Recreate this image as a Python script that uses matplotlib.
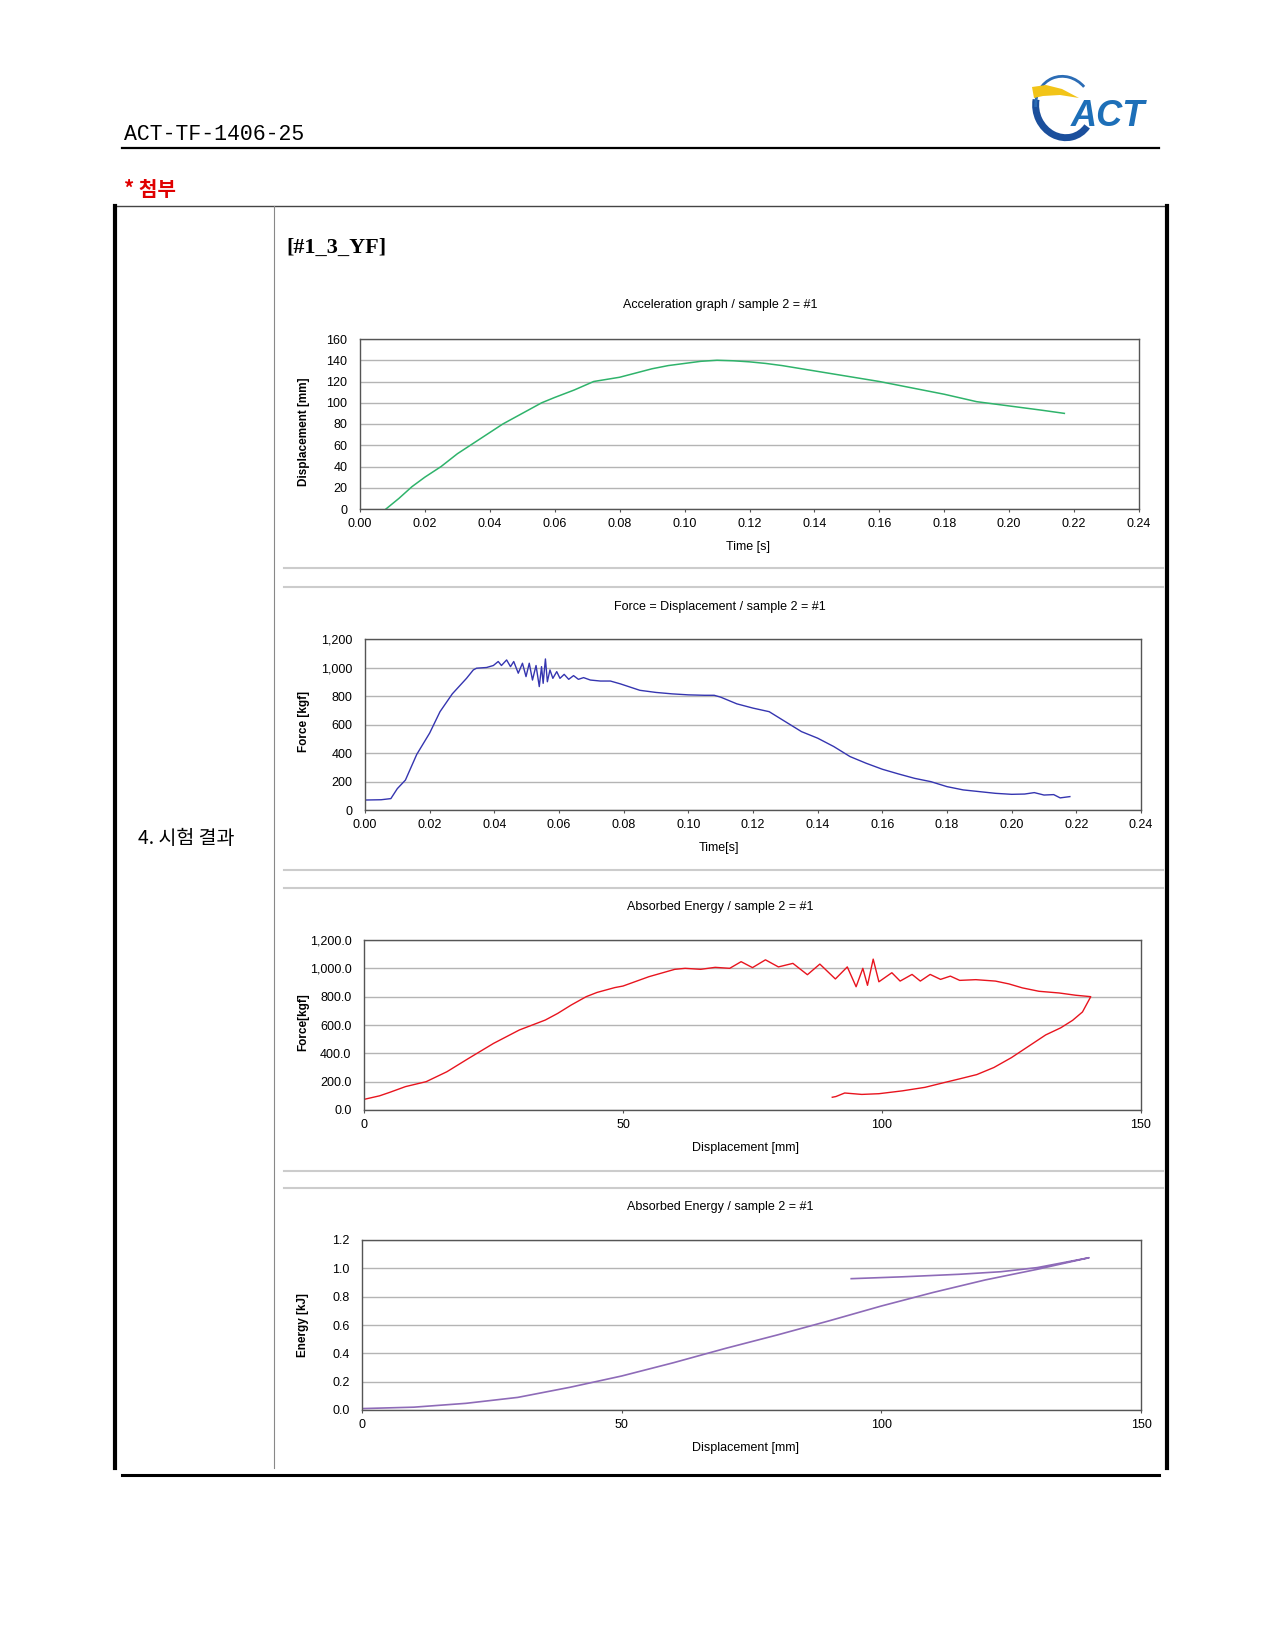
import matplotlib
matplotlib.use("Agg")
import matplotlib.pyplot as plt
from matplotlib.patches import Arc, Polygon
from matplotlib.ticker import StrMethodFormatter

plt.rcParams['font.family'] = ['Liberation Sans', 'Noto Sans CJK KR', 'DejaVu Sans']

W, H = 1275, 1650

# chart 1: displacement vs time
acc_t = [0.008, 0.012, 0.016, 0.020, 0.025, 0.030, 0.034, 0.040, 0.044, 0.050,
         0.056, 0.060, 0.066, 0.072, 0.080, 0.085, 0.090, 0.095, 0.100, 0.105,
         0.110, 0.115, 0.120, 0.125, 0.130, 0.140, 0.150, 0.160, 0.170, 0.180,
         0.190, 0.200, 0.210, 0.217]
acc_d = [0, 10, 21, 30, 40, 52, 60, 72, 80, 90,
         100, 105, 112, 120, 124, 128, 132, 135, 137, 139,
         140, 139.5, 138.5, 137, 135, 130, 125, 120, 114, 108,
         101, 97, 93, 90]

# chart 2: force vs time
force_t = [0.000, 0.005, 0.008, 0.010, 0.0125, 0.016, 0.020, 0.0232, 0.027, 0.0314,
           0.0335, 0.0345, 0.0376, 0.0397, 0.0412, 0.0422, 0.0438, 0.045, 0.046, 0.0474,
           0.0487, 0.0498, 0.0508, 0.0518, 0.0529, 0.0539, 0.0546, 0.0551, 0.0558, 0.0564,
           0.0572, 0.0581, 0.0593, 0.0603, 0.0616, 0.063, 0.0645, 0.066, 0.0676, 0.0697,
           0.0728, 0.0759, 0.079, 0.085, 0.090, 0.095, 0.100, 0.105, 0.108, 0.110,
           0.115, 0.120, 0.125, 0.130, 0.135, 0.140, 0.145, 0.150, 0.155, 0.160,
           0.165, 0.170, 0.175, 0.180, 0.185, 0.190, 0.195, 0.200, 0.204, 0.207,
           0.210, 0.213, 0.215, 0.218]
force_f = [70, 72, 80, 150, 210, 390, 540, 690, 815, 924,
           983, 995, 1000, 1014, 1042, 1014, 1053, 1006, 1042, 960,
           1030, 936, 1030, 912, 1014, 866, 1006, 889, 1060, 900,
           983, 924, 971, 924, 952, 917, 943, 917, 929, 912,
           905, 905, 885, 840, 825, 815, 808, 805, 805, 792,
           745, 715, 690, 620, 550, 504, 445, 375, 328, 286,
           253, 222, 199, 164, 141, 129, 117, 110, 112, 122,
           105, 108, 85, 94]

# chart 3: force vs displacement
ea_x = [0, 3, 5, 8, 12, 16, 20, 25, 30, 35,
        37.4, 40, 42.9, 45, 48.4, 50, 55, 60, 62, 65,
        67.8, 70.6, 72.8, 75, 77.5, 80, 82.8, 85.6, 88, 91,
        93.3, 95, 96.3, 97.2, 98.3, 99.4, 101.9, 103.5, 105.8, 107.4,
        109.3, 111.3, 113.2, 115, 118.1, 121.9, 124.5, 127.1, 130.3, 134.2,
        137.4, 140.3, 138.7, 136.8, 134.5, 131.6, 128.3, 125, 121.6, 118.3,
        115, 111.6, 108.3, 103.9, 99.4, 96.1, 92.8, 91.1, 90.4]
ea_f = [75, 100, 125, 165, 200, 270, 360, 470, 565, 635,
        682, 741, 800, 830, 864, 875, 941, 993, 1000, 993,
        1007, 1000, 1047, 1005, 1060, 1010, 1035, 955, 1030, 925,
        1010, 870, 1000, 880, 1065, 905, 969, 910, 957, 910,
        957, 922, 945, 915, 920, 910, 890, 862, 838, 826,
        810, 800, 692, 633, 580, 530, 450, 370, 300, 250,
        220, 190, 160, 135, 115, 110, 120, 95, 90]

# chart 4: energy vs displacement
en_x = [0, 10, 20, 30, 40, 50, 60, 70, 80, 90, 100, 110, 120, 130, 140,
        135, 130, 123, 115, 104, 94.2]
en_e = [0.01, 0.02, 0.047, 0.089, 0.16, 0.24, 0.334, 0.435, 0.53, 0.63, 0.734, 0.83, 0.918, 0.993, 1.075,
        1.04, 1.005, 0.976, 0.958, 0.94, 0.927]

time_ticks = [0.00, 0.02, 0.04, 0.06, 0.08, 0.10, 0.12, 0.14, 0.16, 0.18, 0.20, 0.22, 0.24]
disp_ticks = [0, 50, 100, 150]
acc_yticks = [0, 20, 40, 60, 80, 100, 120, 140, 160]
force_yticks = [0, 200, 400, 600, 800, 1000, 1200]
energy_yticks = [0.0, 0.2, 0.4, 0.6, 0.8, 1.0, 1.2]

fig = plt.figure(figsize=(W / 100, H / 100), dpi=100)

# background layer in pixel coordinates
bg = fig.add_axes([0, 0, 1, 1], zorder=-1)
bg.set_xlim(0, W)
bg.set_ylim(H, 0)
bg.axis('off')

# page header
bg.text(124, 140, "ACT-TF-1406-25", family='Liberation Mono', fontsize=15.5, va='baseline')
bg.plot([122, 1159], [148, 148], color='black', lw=1.6)
bg.text(124, 190, "* 첨부", family=['Noto Sans CJK KR'], fontsize=14.5, fontweight='bold',
        color='#e00000', va='center')

# logo
bg.add_patch(Arc((1064, 107), 56, 62, angle=-20, theta1=60, theta2=215, color='#1b4f9c', lw=5))
bg.add_patch(Arc((1064, 107), 56, 62, angle=-20, theta1=200, theta2=335, color='#2b6cb5', lw=2))
bg.add_patch(Polygon([[1032, 87], [1046, 85], [1062, 89], [1079, 98], [1060, 95], [1043, 96], [1034, 98]],
                     closed=True, color='#f2c418', lw=0))
bg.text(1108, 117, "ACT", fontsize=26, fontweight='bold', style='italic', color='#1d6fb8',
        ha='center', va='center')

# table frame
bg.plot([115, 1167], [206, 206], color='#444444', lw=1.0)
bg.plot([115, 115], [206, 1468], color='black', lw=3.0)
bg.plot([1167, 1167], [206, 1468], color='black', lw=3.0)
bg.plot([274, 274], [206, 1468], color='#888888', lw=0.8)
bg.plot([122, 1159], [1475, 1475], color='black', lw=2.2)
bg.text(138, 839, "4. 시험 결과", family=['Noto Sans CJK KR'], fontsize=14, va='center')
bg.text(286, 248, "[#1_3_YF]", family='Liberation Serif', fontsize=16, fontweight='bold', va='center')

for y in [568, 587, 870, 888, 1171, 1188]:
    bg.plot([284, 1163], [y, y], color='#cccccc', lw=1.5)


def px_axes(l, t, r, b):
    return fig.add_axes([l / W, 1 - b / H, (r - l) / W, (b - t) / H])


def style(ax, xlim, xticks, ylim, yticks, xfmt, yfmt):
    ax.set_xlim(*xlim)
    ax.set_ylim(*ylim)
    ax.set_xticks(xticks)
    ax.set_yticks(yticks)
    ax.xaxis.set_major_formatter(StrMethodFormatter(xfmt))
    ax.yaxis.set_major_formatter(StrMethodFormatter(yfmt))
    ax.grid(axis='y', color='#b4b4b4', lw=1.0)
    ax.set_axisbelow(True)
    for sp in ax.spines.values():
        sp.set_color('#555555')
        sp.set_linewidth(1.0)
    ax.tick_params(axis='y', length=0, pad=9, labelsize=9)
    ax.tick_params(axis='x', length=2.5, direction='out', pad=4, labelsize=9, color='#555555')


# chart 1
ax1 = px_axes(360, 339, 1139, 509)
ax1.plot(acc_t, acc_d, color='#2fb36b', lw=1.1)
style(ax1, (0, 0.24), time_ticks, (0, 160), acc_yticks, '{x:.2f}', '{x:.0f}')
bg.text(720, 305, "Acceleration graph / sample 2 = #1", fontsize=9, ha='center', va='center')
bg.text(748, 547, "Time [s]", fontsize=9, ha='center', va='center')
bg.text(304, 432, "Displacement [mm]", fontsize=8.5, fontweight='bold', rotation=90, ha='center', va='center')

# chart 2
ax2 = px_axes(365, 639, 1141, 810)
ax2.plot(force_t, force_f, color='#3535b0', lw=1.0)
style(ax2, (0, 0.24), time_ticks, (0, 1200), force_yticks, '{x:.2f}', '{x:,.0f}')
bg.text(720, 607, "Force = Displacement / sample 2 = #1", fontsize=9, ha='center', va='center')
bg.text(719, 848, "Time[s]", fontsize=9, ha='center', va='center')
bg.text(304, 722, "Force [kgf]", fontsize=8.5, fontweight='bold', rotation=90, ha='center', va='center')

# chart 3
ax3 = px_axes(364, 940, 1141, 1110)
ax3.plot(ea_x, ea_f, color='#e8141e', lw=1.0)
style(ax3, (0, 150), disp_ticks, (0, 1200), force_yticks, '{x:.0f}', '{x:,.1f}')
bg.text(720, 907, "Absorbed Energy / sample 2 = #1", fontsize=9, ha='center', va='center')
bg.text(745, 1148, "Displacement [mm]", fontsize=9, ha='center', va='center')
bg.text(303, 1022, "Force[kgf]", fontsize=8.5, fontweight='bold', rotation=90, ha='center', va='center')

# chart 4
ax4 = px_axes(362, 1240, 1141, 1410)
ax4.plot(en_x, en_e, color='#8e6bb8', lw=1.2)
style(ax4, (0, 150), disp_ticks, (0, 1.2), energy_yticks, '{x:.0f}', '{x:.1f}')
bg.text(720, 1207, "Absorbed Energy / sample 2 = #1", fontsize=9, ha='center', va='center')
bg.text(745, 1448, "Displacement [mm]", fontsize=9, ha='center', va='center')
bg.text(303, 1325, "Energy [kJ]", fontsize=8.5, fontweight='bold', rotation=90, ha='center', va='center')

fig.savefig("out.png", dpi=100)
